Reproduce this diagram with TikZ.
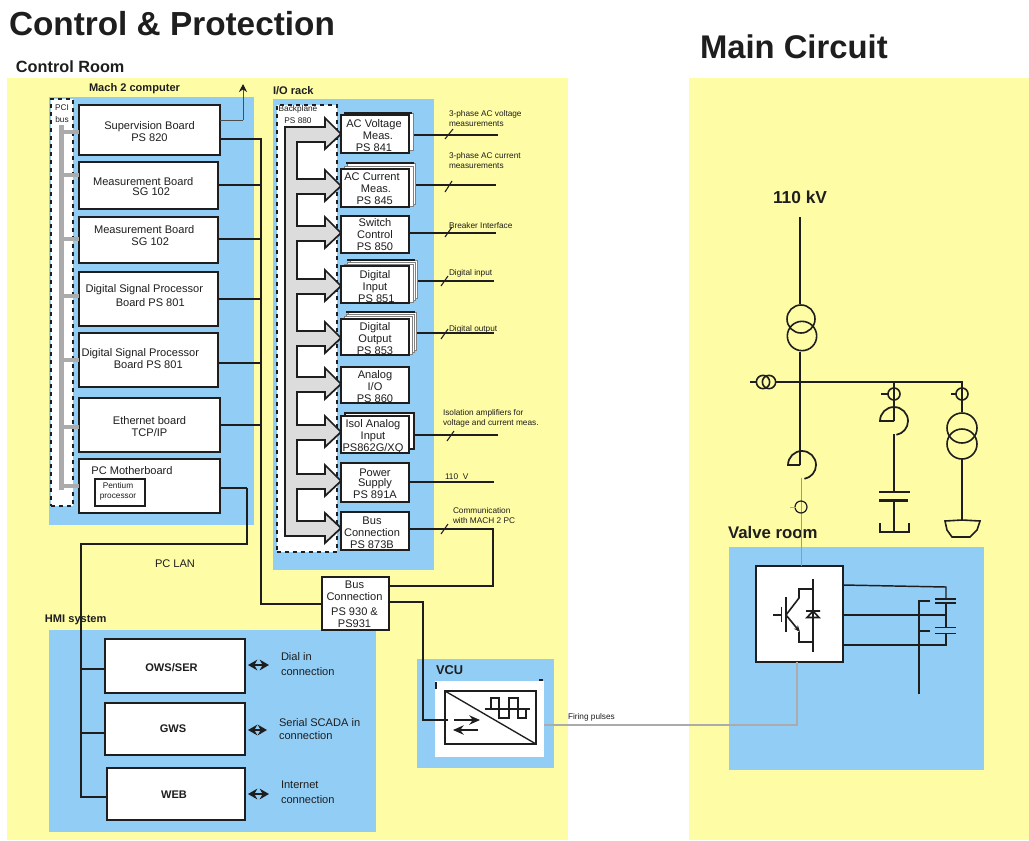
\documentclass[tikz,border=0pt]{standalone}
\usepackage{fontspec}
\setmainfont{Liberation Sans}
\usetikzlibrary{arrows.meta}
\definecolor{ylw}{HTML}{FFFCA6}
\definecolor{blu}{HTML}{92CDF6}
\definecolor{ink}{HTML}{1E1E1E}
\definecolor{bus}{HTML}{ABABAB}
\definecolor{fillgray}{HTML}{DCDCDC}
\newcommand\fH{\fontsize{25}{28}\bfseries\selectfont}
\newcommand\fHb{\fontsize{24.6}{28}\bfseries\selectfont}
\newcommand\fS{\fontsize{12.6}{14}\bfseries\selectfont}
\newcommand\fK{\fontsize{13}{14}\bfseries\selectfont}
\newcommand\fR{\fontsize{12.2}{14}\bfseries\selectfont}
\newcommand\fB{\fontsize{8.3}{10}\bfseries\selectfont}
\newcommand\fN{\fontsize{8.3}{9}\selectfont}
\newcommand\fT{\fontsize{6.2}{7.5}\selectfont}
\newcommand\fV{\fontsize{9.6}{11}\bfseries\selectfont}
\newcommand\tx[3]{\raisebox{\dimexpr -#2pt*3/4 - 3.75pt\relax}[0pt][0pt]{\makebox[0pt]{\hspace*{\dimexpr #1pt*3/2\relax}\begin{tabular}[c]{@{}c@{}}#3\end{tabular}}}}
\newcommand\bxx[9][]{\node[boxn,#1,minimum width={(#5-#3)*0.75pt},minimum height={(#6-#4)*0.75pt}] (#2) at ({(#3+#5)/2},{(#4+#6)/2}) {\tx{#7}{#8}{#9}};}
\newcommand\tl[5]{\node[txt,align=left,anchor=west,font=#4] (#1) at (#2,#3) {#5};}
\newcommand\headseg[1]{-- (297,{#1-7}) -- (325,{#1-7}) -- (325,{#1-16}) -- (341,#1) -- (325,{#1+15}) -- (325,{#1+8}) -- (297,{#1+8})}
\tikzset{
  boxn/.style={draw=ink,fill=white,line width=1.5pt,inner sep=0pt,outer sep=0pt,text=ink,font=\fN},
  smallb/.style={line width=1.1pt,font=\fT},
  hmib/.style={line width=1.4pt,font=\fB},
  txt/.style={inner sep=0pt,outer sep=0pt,text=ink},
  wire/.style={draw=ink,line width=1.1pt},
  lan/.style={draw=ink,line width=1.6pt},
  tick/.style={draw=ink,line width=0.8pt},
  pcibus/.style={draw=bus,line width=3.2pt},
  gline/.style={draw=bus,line width=1.5pt},
  sheet/.style={draw=gray,fill=white,line width=0.4pt},
  heavy/.style={draw=ink,line width=2.2pt},
  sym/.style={draw=ink,line width=1.2pt},
  both/.style={draw=ink,line width=1.4pt,{Stealth[length=7pt,width=8pt]}-{Stealth[length=7pt,width=8pt]}},
  panel/.style={fill=#1,draw=none}
}
\begin{document}
\begin{tikzpicture}[x=0.75pt,y=-0.75pt]
\useasboundingbox (0,0) rectangle (1029,840);
% panels
\fill[panel=ylw] (7,78) rectangle (568,840);
\fill[panel=ylw] (689,78) rectangle (1029,840);
\fill[panel=blu] (49,97) rectangle (254,525);
\fill[panel=blu] (273,99) rectangle (434,570);
\fill[panel=blu] (49,630) rectangle (376,832);
\fill[panel=blu] (417,659) rectangle (554,768);
\fill[panel=blu] (729,547) rectangle (984,770);
% headings
\tl{title}{9}{24}{\fH}{Control \& Protection}
\tl{main}{700}{47}{\fHb}{Main Circuit}
\tl{croom}{16}{67}{\fR}{Control Room}
\tl{mach}{89}{89}{\fB}{Mach 2 computer}
\tl{iorack}{273}{91}{\fB}{I/O rack}
\tl{hmi}{45}{620}{\fB}{HMI system}
\tl{kv}{773}{197}{\fK}{110 kV}
\tl{valveT}{728}{532}{\fS}{Valve room}
% PCI bus
\bxx[draw=ink,dashed,line width=1.1pt,font=\fT]{pci}{51}{99}{73}{506}{0}{-191}{PCI\\[1.5pt]bus}
\draw[pcibus,line width=4pt] (61.5,125) coordinate (pt) -- (61.5,490) coordinate (pb);
% computer boards
\bxx{sup}{79}{105}{220}{155}{0}{1}{Supervision Board\\PS 820}
\bxx{mea}{79}{162}{217.5}{209}{-5}{0.5}{Measurement Board\\[-1.5pt]\hspace*{12pt}SG 102}
\bxx{meb}{79}{217}{217.5}{263}{-4}{-5}{Measurement Board\\\hspace*{9pt}SG 102}
\bxx{dsa}{79}{272}{217.5}{326}{-4}{-4}{Digital Signal Processor\\[1.5pt]\hspace*{9pt}Board PS 801}
\bxx{dsb}{79}{333}{217.5}{387}{-8}{-2}{Digital Signal Processor\\\hspace*{12pt}Board PS 801}
\bxx{eth}{79}{398}{220}{452}{0}{1}{Ethernet board\\TCP/IP}
\bxx{mb}{79}{459}{220}{513}{-17.5}{-16}{PC Motherboard}
\bxx[smallb]{pen}{95}{479}{145}{506}{-2}{-4}{Pentium\\processor}
% PCI stubs
\foreach \n/\y in {sup/132,mea/175,meb/239,dsa/296,dsb/360,eth/427,mb/486}{
  \coordinate (stub\n) at (61.5,\y);
  \draw[pcibus] (stub\n) -- (\n.west |- stub\n);
}
% thin arrow
\coordinate (upa) at (243,120); \coordinate (upb) at (243,84);
\draw[draw=gray!60!black,line width=0.6pt] (sup.east |- upa) -- (upa);
\draw[draw=gray!60!black,line width=0.6pt,-{Stealth[length=6pt,width=6pt,color=ink]}] (upa) -- (upb);
% backplane
\bxx[dashed,line width=1.1pt,font=\fT]{bp}{277}{105}{337}{552}{-9}{-216}{Backplane\\[1.5pt]PS 880}
\draw[draw=ink,line width=1.3pt,fill=fillgray] (285,127) -- (325,127) -- (325,118) -- (341,134) -- (325,149) -- (325,142) -- (297,142)
  \headseg{186} \headseg{233} \headseg{286} \headseg{338} \headseg{384} \headseg{432} \headseg{481}
  -- (297,521) -- (325,521) -- (325,513) -- (341,528) -- (325,543) -- (325,536) -- (285,536) -- cycle;
% I/O outputs (drawn first: the sheets hide their start)
\foreach \n/\x/\y/\ax/\ay/\bx/\by in {acv/498/135/445/139/453/129,acc/496/185/445/192/452/181,sw/496/233/445/237/452/227,dig/494/281/441/286/448/276,dog/494/333/441/339/448/329,iso/498/435/447/441/454/431}{
  \coordinate (out\n) at (\x,\y);
  \coordinate (sa\n) at (\ax,\ay); \coordinate (sb\n) at (\bx,\by);
  \coordinate (src\n) at (400,\y);
  \draw[wire] (src\n) -- (out\n);
  \draw[tick] (sa\n) -- (sb\n);
}
% stacked sheets
\draw[sheet] (344,113) rectangle (413,150); \draw[ink,line width=1.1pt] (344,113) -- (412,113);
\draw[sheet] (347,163) rectangle (415,204); \draw[sheet] (344,166) rectangle (413,206); \draw[ink,line width=1.1pt] (346,163) -- (414,163);
\draw[sheet] (350,260) rectangle (417,298); \draw[sheet] (347,262) rectangle (415,300); \draw[sheet] (344,264) rectangle (413,302); \draw[ink,line width=1.1pt] (347,260) -- (415,260);
\draw[sheet] (348,312) rectangle (416,350); \draw[sheet] (346,314) rectangle (414,352); \draw[sheet] (344,316) rectangle (412,354); \draw[ink,line width=1.1pt] (346,312) -- (415,312);
\draw[draw=ink,fill=white,line width=1.1pt] (345,413) rectangle (414,449);
% I/O modules
\bxx{acv}{341}{115}{409}{153}{-1}{1}{AC Voltage\\\hspace*{6pt}Meas.\\PS 841}
\bxx{acc}{341}{169}{409}{207}{-3}{0}{AC Current\\\hspace*{6pt}Meas.\\\hspace*{4pt}PS 845}
\bxx{sw}{341}{216}{409}{253}{0}{-1}{Switch\\Control\\PS 850}
\bxx{dig}{341}{266}{409}{303}{0}{1.5}{Digital\\Input\\\hspace*{2pt}PS 851}
\bxx{dog}{341}{319}{409}{355}{0}{1}{Digital\\Output\\PS 853}
\bxx{ana}{341}{367}{409}{403}{0}{1}{Analog\\I/O\\PS 860}
\bxx{iso}{341}{416}{409}{453}{-2}{0.5}{Isol Analog\\Input\\PS862G/XQ}
\bxx{pw}{341}{463}{409}{502}{0}{0}{Power\\[-1.5pt]Supply\\PS 891A}
\bxx{bc}{341}{512}{409}{550}{-3}{1}{Bus\\Connection\\PS 873B}
\coordinate (outpw) at (494,482); \draw[wire] (pw.east |- outpw) -- (outpw);
% I/O labels
\tl{l1}{449}{119}{\fT}{3-phase AC voltage\\measurements}
\tl{l2}{449}{161}{\fT}{3-phase AC current\\measurements}
\tl{l3}{449}{226}{\fT}{Breaker Interface}
\tl{l4}{449}{273}{\fT}{Digital input}
\tl{l5}{449}{329}{\fT}{Digital output}
\tl{l6}{443}{418}{\fT}{Isolation amplifiers for\\voltage and current meas.}
\tl{l7}{445}{477}{\fT}{110\ \ V}
\tl{l8}{453}{516}{\fT}{Communication\\with MACH 2 PC}
% bus connection
\bxx{bcc}{322}{577}{389}{630}{-1}{-0.5}{Bus\\Connection\\[2pt]PS 930 \&\\PS931}
\coordinate (r1) at (493,529); \coordinate (r2) at (493,586);
\draw[wire] (bc.east |- r1) -- (r1) -- (r2) -- (bcc.east |- r2);
\coordinate (rs1) at (441,534); \coordinate (rs2) at (448,524);
\draw[tick] (rs1) -- (rs2);
% computer bus
\coordinate (cb0) at (261,139); \coordinate (cb1) at (261,604);
\draw[wire] (sup.east |- cb0) -- (cb0) -- (cb1) -- (bcc.west |- cb1);
\foreach \n/\y in {mea/185,meb/239,dsa/299,dsb/363,eth/425}{
  \coordinate (tap\n) at (261,\y);
  \draw[wire] (\n.east |- tap\n) -- (tap\n);
}
% HMI boxes
\bxx[hmib]{ows}{105}{639}{245}{693}{-3.5}{0}{OWS/SER}
\bxx[hmib]{gws}{105}{703}{245}{755}{-2}{-2}{GWS}
\bxx[hmib]{web}{107}{768}{245}{820}{-2}{-1}{WEB}
% LAN
\coordinate (la) at (247,488); \coordinate (lb) at (247,544); \coordinate (lc) at (81,544); \coordinate (ld) at (81,797);
\draw[draw=ink,line width=2.2pt] (mb.east |- la) -- (la);
\draw[lan] (la) -- (lb) -- (lc) -- (ld) -- (web.west |- ld);
\coordinate (le) at (81,669); \coordinate (lf) at (81,733);
\draw[wire] (le) -- (ows.west |- le);
\draw[wire] (lf) -- (gws.west |- lf);
\tl{pclan}{155}{564}{\fN}{PC LAN}
% HMI arrows
\foreach \n/\y/\e in {ows/665/269,gws/730/267,web/794/269}{
  \coordinate (da\n) at (248,\y); \coordinate (db\n) at (\e,\y);
  \draw[both] (da\n) -- (db\n);
}
\tl{t1}{281}{664}{\fN}{Dial in\\[2.5pt]connection}
\tl{t2}{279}{729}{\fN}{Serial SCADA in\\[1pt]connection}
\tl{t3}{281}{792}{\fN}{Internet\\[2.5pt]connection}
% VCU
\tl{vcut}{436}{670}{\fV}{VCU}
\node[fill=white,minimum width=81.75pt,minimum height=57pt,inner sep=0pt,outer sep=0pt] (vcu) at (489.5,719) {};
\draw[ink,line width=0.9pt] (436,682) -- (436,689) (539,680) -- (543,680);
\node[draw=ink,line width=1.1pt,minimum width=68.25pt,minimum height=39.75pt,inner sep=0pt,outer sep=0pt] (vin) at (490.5,717.5) {};
\draw[sym,line width=1pt] (vin.north west) -- (vin.south east);
\draw[sym,line width=0.9pt] (485,709) -- (530,709);
\draw[sym,line width=0.9pt] (491,709) -- (491,698) -- (499,698) -- (499,718) -- (509,718) -- (509,698) -- (518,698) -- (518,718) -- (526,718) -- (526,709);
\draw[sym,-{Stealth[length=8pt,width=7pt]}] (454,720) -- (480,720);
\draw[sym,-{Stealth[length=8pt,width=7pt]}] (478,730) -- (453,730);
\coordinate (v1) at (423,602); \coordinate (v2) at (423,720); \coordinate (v3) at (448,720);
\draw[wire] (bcc.east |- v1) -- (v1) -- (v2) -- (v3);
% Valve
\node[draw=ink,fill=white,line width=1.3pt,minimum width=65.25pt,minimum height=72pt,inner sep=0pt,outer sep=0pt] (valve) at (799.5,614) {};
\coordinate (fp) at (797,725);
\draw[gline] (vcu.east |- fp) -- (fp) -- (fp |- valve.south);
\tl{fpt}{568}{717}{\fT}{Firing pulses}
% thin feed
\coordinate (tf) at (801,478);
\draw[draw=bus!90!black,line width=0.6pt] (tf) -- (tf |- valve.north);
\draw[ink,line width=0.9pt] (801,507) circle [radius=4.5pt];
\draw[draw=bus,line width=0.5pt] (790,507) -- (796,507);
% semiconductor
\draw[sym] (813,579) -- (813,652);
\draw[sym] (813,589) -- (799,589) -- (799,598) -- (786,615);
\draw[sym,-{Stealth[length=5pt,width=4pt]}] (786,615) -- (800,632);
\draw[sym] (799,632) -- (799,642) -- (813,642);
\draw[sym] (786,597) -- (786,632);
\draw[sym] (781.5,607) -- (781.5,622);
\draw[sym] (773,615) -- (781.5,615);
\draw[sym] (806,611) -- (820,611) (813,611) -- (807,617.5) -- (819,617.5) -- cycle;
% valve wiring
\coordinate (w1) at (946,587); \coordinate (w2) at (946,615); \coordinate (w3) at (946,645); \coordinate (w0) at (843,585);
\draw[wire] (w0) -- (w1) -- (946,599);
\draw[wire] (valve.east |- w2) -- (w2);
\draw[wire] (valve.east |- w3) -- (w3) -- (946,633.5);
\draw[wire] (946,603) -- (946,627.5);
\draw[wire] (935,599) -- (956,599) (935,603) -- (956,603);
\draw[wire] (935,627.5) -- (956,627.5) (935,633.5) -- (956,633.5);
\draw[wire] (930,601) -- (919,601) -- (919,694);
\draw[wire] (919,631) -- (930,631);
% one-line diagram
\draw[heavy] (800,217) -- (800,304);
\draw[sym] (801,319) circle [radius=10.5pt];
\draw[sym] (802,336) circle [radius=11pt];
\draw[heavy] (800,352) -- (800,465);
\draw[heavy] (775,382) -- (963,382);
\draw[heavy] (962,382) -- (962,412);
\draw[sym] (763,382) circle [radius=5pt];
\draw[sym] (769,382) circle [radius=5pt];
\draw[heavy] (750,382) -- (757,382);
\draw[sym,line width=1.3pt] (800,465) -- (788,465) arc[start angle=180,end angle=-80,radius=10.5pt];
\draw[heavy] (894,382) -- (894,421);
\draw[sym] (894,394) circle [radius=4.5pt];
\draw[heavy] (881,394) -- (888,394);
\draw[sym,line width=1.3pt] (894,421) -- (880,421) arc[start angle=180,end angle=-80,radius=10.5pt];
\draw[heavy] (894,434) -- (894,492);
\draw[heavy] (879,492) -- (910,492);
\draw[heavy] (879,500.5) -- (908,500.5);
\draw[heavy] (894,501) -- (894,532);
\draw[sym,line width=1.3pt] (880,523) -- (880,532) -- (909,532) -- (909,523);
\draw[sym] (962,394) circle [radius=4.5pt];
\draw[heavy] (951,394) -- (956,394);
\draw[sym] (962,428) circle [radius=11.25pt];
\draw[sym] (962,444) circle [radius=11.25pt];
\draw[heavy] (962,459) -- (962,520);
\draw[sym] (945,521) -- (962,520) -- (980,521) -- (977,530) -- (970,537) -- (952,537) -- (947,530) -- cycle;
\end{tikzpicture}
\end{document}
